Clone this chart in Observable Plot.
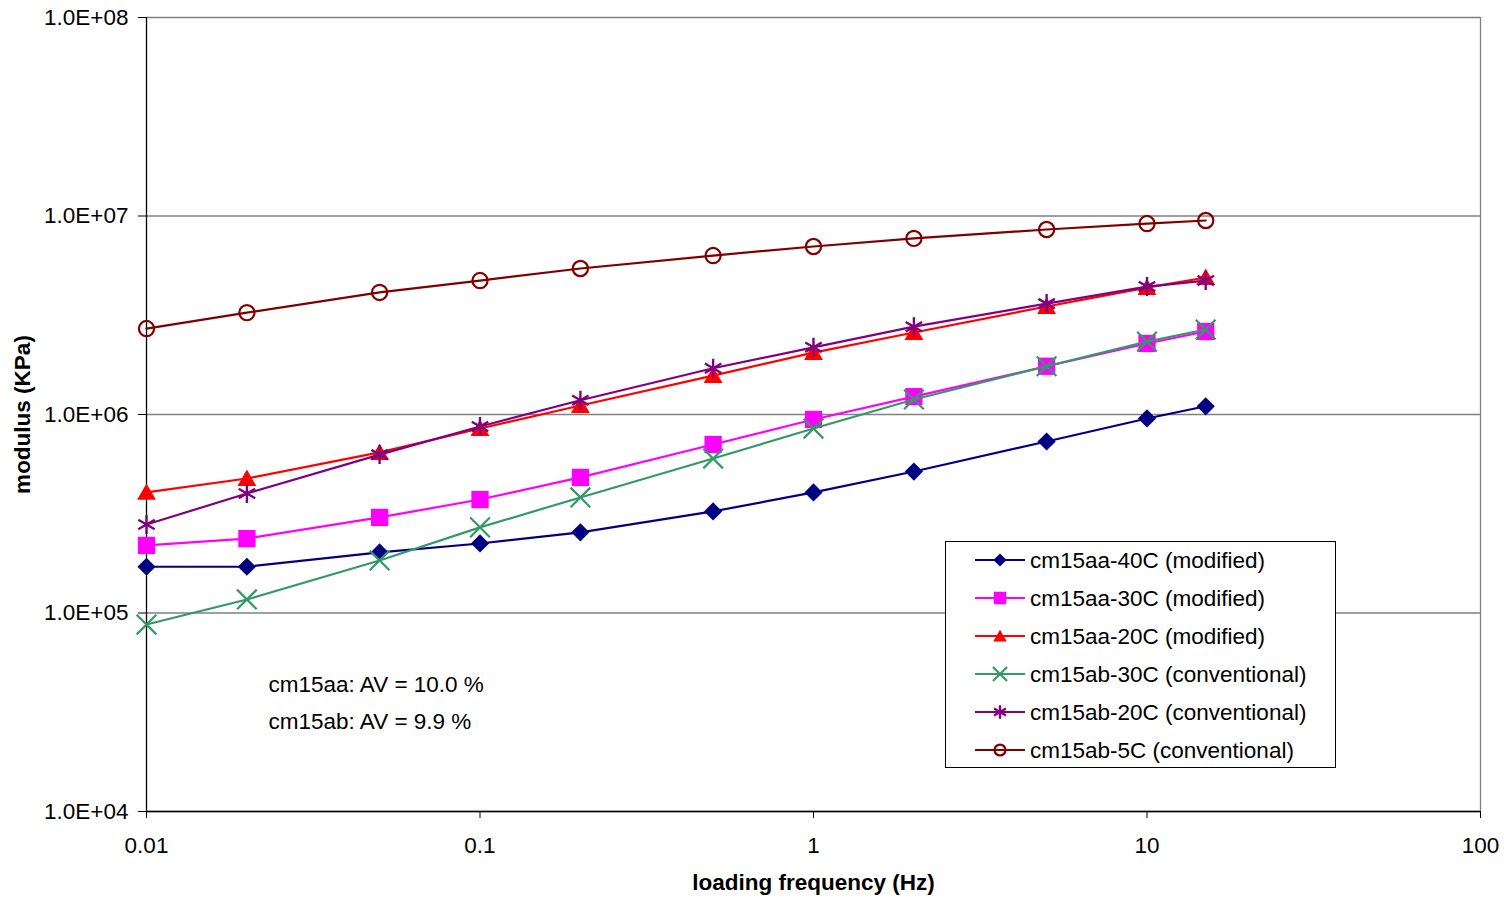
<!DOCTYPE html>
<html><head><meta charset="utf-8">
<script src="https://cdn.jsdelivr.net/npm/d3@7"></script>
<script src="https://cdn.jsdelivr.net/npm/@observablehq/plot@0.6"></script>
<style>body{margin:0;background:#fff;} #chart{position:relative;width:1504px;height:900px;}</style>
</head><body><div id="chart"></div>
<script>
// ---- data ----
const frequency = [0.01, 0.02, 0.05, 0.1, 0.2, 0.5, 1, 2, 5, 10, 15];
const cm15aa40C = [171000, 171000, 202000, 224000, 255000, 325000, 405000, 516000, 731000, 955000, 1100000];
const cm15aa30C = [219000, 237000, 303000, 373000, 482000, 706000, 944000, 1230000, 1750000, 2280000, 2620000];
const cm15aa20C = [405000, 476000, 644000, 850000, 1110000, 1570000, 2050000, 2590000, 3500000, 4360000, 4900000];
const cm15ab30C = [87500, 117000, 184000, 270000, 382000, 600000, 850000, 1190000, 1750000, 2330000, 2680000];
const cm15ab20C = [279000, 400000, 628000, 870000, 1180000, 1710000, 2180000, 2770000, 3620000, 4410000, 4730000];
const cm15ab5C  = [2710000, 3260000, 4120000, 4730000, 5440000, 6320000, 7020000, 7710000, 8550000, 9160000, 9490000];

const seriesNames = ["cm15aa-40C (modified)", "cm15aa-30C (modified)", "cm15aa-20C (modified)",
  "cm15ab-30C (conventional)", "cm15ab-20C (conventional)", "cm15ab-5C (conventional)"];
const seriesValues = [cm15aa40C, cm15aa30C, cm15aa20C, cm15ab30C, cm15ab20C, cm15ab5C];
const seriesColors = ["#000080", "#FF00FF", "#FF0000", "#339966", "#800080", "#800000"];
const seriesSymbols = ["diamond2", "square2", "triangle2", "times", "asterisk", "circle"];

const xTicks = [0.01, 0.1, 1, 10, 100];
const xTickLabels = ["0.01", "0.1", "1", "10", "100"];
const yTicks = [1e4, 1e5, 1e6, 1e7, 1e8];
const yTickLabels = ["1.0E+04", "1.0E+05", "1.0E+06", "1.0E+07", "1.0E+08"];
const xLabel = "loading frequency (Hz)";
const yLabel = "modulus (KPa)";
const annotations = ["cm15aa: AV = 10.0 %", "cm15ab: AV = 9.9 %"];

// ---- styling ----
const symbolRadius = {diamond2: 8.2, square2: 11, triangle2: 9, times: 9, asterisk: 9, circle: 7.6};
const symbolStroke = {times: 2.2, asterisk: 2.4, circle: 2.2};
const filledSymbols = new Set(["diamond2", "square2", "triangle2"]);
const d3Symbols = {diamond2: d3.symbolDiamond2, square2: d3.symbolSquare2, triangle2: d3.symbolTriangle2,
  times: d3.symbolTimes, asterisk: d3.symbolAsterisk, circle: d3.symbolCircle};
const FONT = "'Liberation Sans', Arial, sans-serif";
const FS = 22.5;

const rows = [];
seriesValues.forEach((vals, i) => vals.forEach((v, j) => rows.push({series: seriesNames[i], idx: i, f: frequency[j], m: v})));

const seriesMarks = [];
seriesNames.forEach((name, i) => {
  const data = rows.filter(d => d.idx === i);
  const sym = seriesSymbols[i];
  const filled = filledSymbols.has(sym);
  seriesMarks.push(Plot.line(data, {x: "f", y: "m", stroke: seriesColors[i], strokeWidth: 2.2}));
  seriesMarks.push(Plot.dot(data, {
    x: "f", y: "m", symbol: () => sym, r: symbolRadius[sym],
    fill: filled ? seriesColors[i] : "none",
    stroke: filled ? "none" : seriesColors[i],
    strokeWidth: filled ? 0 : symbolStroke[sym],
    dy: sym === "triangle2" ? 2 : 0
  }));
});

const plot = Plot.plot({
  width: 1504,
  height: 900,
  marginLeft: 146,
  marginRight: 24,
  marginTop: 17,
  marginBottom: 89,
  style: {fontSize: FS + "px", fontFamily: FONT, background: "#fff", color: "#000"},
  x: {type: "log", domain: [0.01, 100]},
  y: {type: "log", domain: [1e4, 1e8]},
  marks: [
    Plot.ruleY(yTicks, {stroke: "#808080", strokeWidth: 1.3}),
    Plot.ruleX([100], {stroke: "#808080", strokeWidth: 1.3}),
    Plot.ruleX([0.01], {stroke: "#000", strokeWidth: 1.3}),
    Plot.ruleY([1e4], {stroke: "#000", strokeWidth: 1.3}),
    Plot.axisX({ticks: xTicks, tickFormat: d => xTickLabels[xTicks.indexOf(d)], tickSize: 7, tickPadding: 19, label: null}),
    Plot.axisY({ticks: yTicks, tickFormat: d => yTickLabels[yTicks.indexOf(d)], tickSize: 8, tickPadding: 10, label: null}),
    ...seriesMarks,
    Plot.text([xLabel], {frameAnchor: "bottom", textAnchor: "middle", dy: 78, fontWeight: "bold", fontSize: FS}),
    Plot.text([yLabel], {frameAnchor: "left", textAnchor: "middle", dx: -124, rotate: -90, fontWeight: "bold", fontSize: FS}),
    Plot.text([annotations[0]], {frameAnchor: "top-left", textAnchor: "start", dx: 122, dy: 659, fontSize: FS}),
    Plot.text([annotations[1]], {frameAnchor: "top-left", textAnchor: "start", dx: 122, dy: 696, fontSize: FS})
  ]
});
document.getElementById("chart").appendChild(plot);

const svg = d3.select(plot);

// ---- legend (layout drawn in SVG) ----
const lg = svg.append("g").attr("font-family", FONT).attr("font-size", FS).attr("text-anchor", "start");
lg.append("rect").attr("x", 945.5).attr("y", 541.5).attr("width", 390).attr("height", 226)
  .attr("fill", "#fff").attr("stroke", "#000").attr("stroke-width", 1);
seriesNames.forEach((name, i) => {
  const cy = 560 + 38 * i;
  const sym = seriesSymbols[i];
  const filled = filledSymbols.has(sym);
  const r = symbolRadius[sym] * 0.72;
  lg.append("line").attr("x1", 975).attr("x2", 1025).attr("y1", cy).attr("y2", cy)
    .attr("stroke", seriesColors[i]).attr("stroke-width", 2.2);
  lg.append("path").attr("transform", `translate(1000,${cy + (sym === "triangle2" ? 1.5 : 0)})`)
    .attr("d", d3.symbol(d3Symbols[sym], Math.PI * r * r)())
    .attr("fill", filled ? seriesColors[i] : "none")
    .attr("stroke", filled ? "none" : seriesColors[i])
    .attr("stroke-width", filled ? 0 : symbolStroke[sym]);
  lg.append("text").attr("x", 1030).attr("y", cy).attr("dy", "0.35em").attr("fill", "#000")
    .attr("text-anchor", "start").text(name);
});
</script></body></html>
